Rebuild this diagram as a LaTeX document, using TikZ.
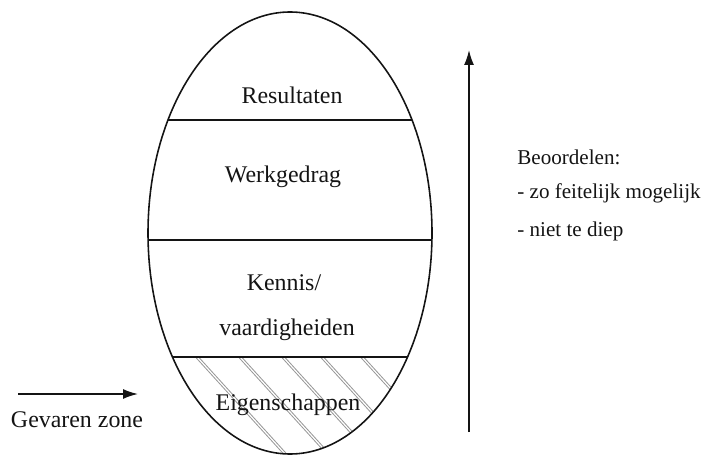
\documentclass[tikz,border=0pt]{standalone}
\usepackage{fontspec}
\setmainfont{Liberation Serif}
\usepackage{tikz}
\usetikzlibrary{arrows.meta,positioning}
\usepackage{xcolor}
\definecolor{lijncol}{RGB}{20,20,20}
\definecolor{arceercol}{RGB}{150,150,150}
\tikzset{
  % layer label inside the ellipse
  laag/.style={font=\fontsize{13.6}{16}\selectfont, inner sep=1pt, text=lijncol},
  % note text on the right
  notitie/.style={font=\fontsize{12}{14}\selectfont, anchor=west, inner sep=0pt, text=lijncol},
  % divider line between layers
  scheiding/.style={draw=lijncol, line width=0.9pt},
  % hatch line in the danger zone
  arcering/.style={draw=arceercol, double=white, double distance=0.7pt, line width=0.55pt},
  % pointer arrow
  pijl/.style={-{Latex[length=3mm,width=2mm]}, draw=lijncol, line width=0.9pt},
}

\begin{document}
\begin{tikzpicture}[x=0.02cm, y=-0.02cm]
  \useasboundingbox (0,0) rectangle (705,455);
  % layers, clipped by the ellipse
  \begin{scope}
    \clip (290,233) ellipse [x radius=142, y radius=221];
    \begin{scope}
      \clip (100,357) rectangle (450,470);
      \foreach \hx in {197,240,283,322,362}
        \draw[arcering] (\hx,357) -- ++(100,110);
    \end{scope}
    \draw[scheiding] (100,120) -- (450,120);
    \draw[scheiding] (100,240) -- (450,240);
    \draw[scheiding] (100,357) -- (450,357);
  \end{scope}
  \draw[lijncol, line width=0.9pt] (290,233) ellipse [x radius=142, y radius=221];

  \node[laag] (res) at (292,95) {Resultaten};
  \node[laag] (werk) at (283,177) {Werkgedrag};
  \node[laag] (kennis) at (284,283) {Kennis/};
  \node[laag] (vaard) at (287,330) {vaardigheiden};
  \node[laag] (eigen) at (288,405) {Eigenschappen};

  % rising arrow and notes
  \coordinate (pvoet) at (469,432);
  \coordinate (ptop) at (469,50);
  \draw[pijl] (pvoet) -- (ptop);
  \node[notitie] (beoord) at (517,157) {Beoordelen:};
  \node[notitie] (feit) at (517,193) {- zo feitelijk mogelijk};
  \node[notitie] (diep) at (517,231) {- niet te diep};

  % danger zone pointer
  \node[laag] (gevaar) at (77,420) {Gevaren zone};
  \coordinate (gstart) at (18,394);
  \coordinate (geind) at (138,394);
  \draw[pijl] (gstart) -- (geind);
\end{tikzpicture}
\end{document}
